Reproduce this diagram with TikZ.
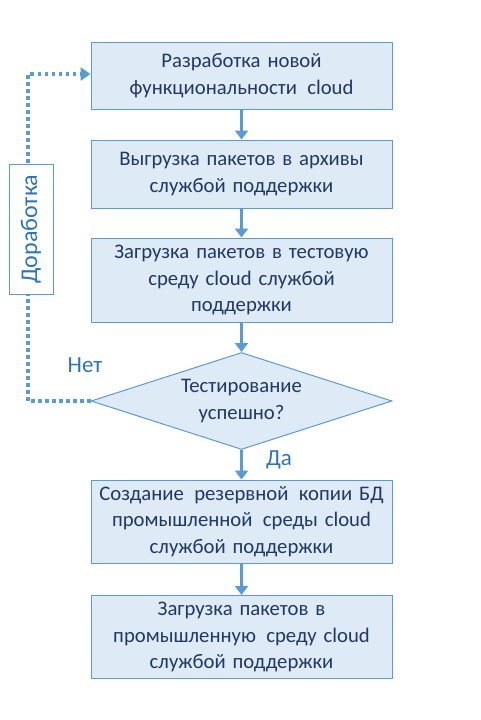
\documentclass[tikz,border=0pt]{standalone}
\usepackage{fontspec}
\setmainfont{Carlito}
\usetikzlibrary{shapes.geometric,arrows.meta}
\definecolor{boxfill}{HTML}{DEEAF6}
\definecolor{boxline}{HTML}{5B9BD5}
\definecolor{txt}{HTML}{203864}
\definecolor{lbl}{HTML}{2E75B6}
\tikzset{
  stepbox/.style={draw=boxline, fill=boxfill, line width=1pt, minimum width=301pt, text width=296pt, align=center, text=txt, font=\fontsize{20.7}{26.5}\selectfont, inner sep=0pt},
  flow/.style={draw=boxline, line width=3.6pt, -{Triangle[width=13pt,length=9pt]}},
  loop/.style={draw=boxline, line width=3.6pt, dash pattern=on 3.6pt off 3.4pt, -{Triangle[width=13pt,length=10pt]}},
  lbltext/.style={text=lbl, font=\fontsize{23}{26}\selectfont, inner sep=0pt},
}
\begin{document}
\begin{tikzpicture}[x=1pt,y=-1pt]
\useasboundingbox (0,0) rectangle (481,720);
\node[stepbox, minimum height=67pt] (b1) at (241.5,75.5) {Разработка новой\\функциональности\, cloud};
\node[stepbox, minimum height=68pt] (b2) at (241.5,174) {Выгрузка пакетов в архивы\\службой поддержки};
\node[stepbox, minimum height=84pt] (b3) at (241.5,280) {Загрузка пакетов в тестовую\\среду cloud службой\\поддержки};
\node[diamond, draw=boxline, fill=boxfill, line width=1pt, minimum width=301pt, minimum height=97pt, aspect=3.1, inner sep=0pt] (d) at (241.5,401) {};
\node[text=txt, align=center, font=\fontsize{20.7}{26.5}\selectfont] (dt) at (241.5,401) {Тестирование\\успешно?};
\node[stepbox, minimum height=83pt] (b4) at (241.5,521.5) {Создание\, резервной\, копии БД\\промышленной\, среды cloud\\службой поддержки};
\node[stepbox, minimum height=83pt] (b5) at (241.5,637) {Загрузка пакетов в\\промышленную\, среду cloud\\службой поддержки};
\draw[flow] (b1) -- (b2);
\draw[flow] (b2) -- (b3);
\draw[flow] (b3) -- (d);
\draw[flow] (d) -- (b4);
\draw[flow] (b4) -- (b5);
\coordinate (c1) at (28,401);
\coordinate (c2) at (28,74);
\draw[loop] (d.west) -- (c1) -- (c2) -- (b1.west |- c2);
\node[draw=boxline, fill=white, line width=1pt, minimum width=44pt, minimum height=130pt, inner sep=0pt] (rw) at (31,229) {};
\node[rotate=90, text=lbl, font=\fontsize{24}{28}\selectfont] (rwt) at (rw.center) {Доработка};
\node[lbltext] (no) at (85,365) {Нет};
\node[lbltext] (yes) at (279,460) {Да};
\end{tikzpicture}
\end{document}
